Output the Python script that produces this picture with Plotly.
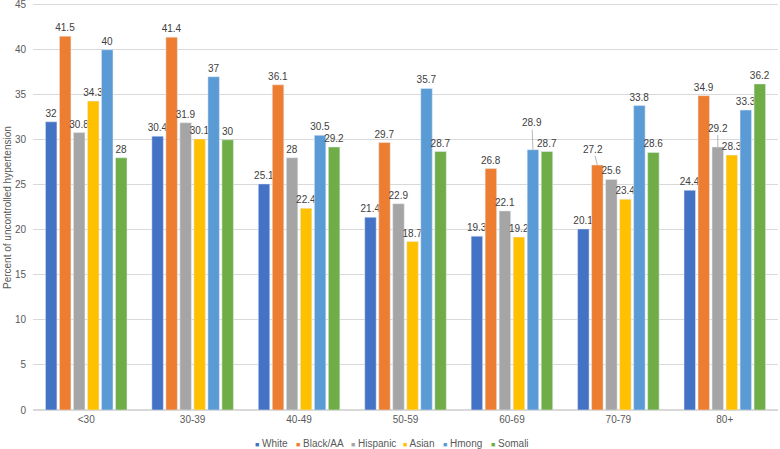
import plotly.graph_objects as go

categories = ["<30", "30-39", "40-49", "50-59", "60-69", "70-79", "80+"]
white = [32, 30.4, 25.1, 21.4, 19.3, 20.1, 24.4]
black = [41.5, 41.4, 36.1, 29.7, 26.8, 27.2, 34.9]
hispanic = [30.8, 31.9, 28, 22.9, 22.1, 25.6, 29.2]
asian = [34.3, 30.1, 22.4, 18.7, 19.2, 23.4, 28.3]
hmong = [40, 37, 30.5, 35.7, 28.9, 33.8, 33.3]
somali = [28, 30, 29.2, 28.7, 28.7, 28.6, 36.2]

series = [
    ("White", white, "#4472C4"),
    ("Black/AA", black, "#ED7D31"),
    ("Hispanic", hispanic, "#A5A5A5"),
    ("Asian", asian, "#FFC000"),
    ("Hmong", hmong, "#5B9BD5"),
    ("Somali", somali, "#70AD47"),
]

# labels moved off the bar with a leader line: (series index, category index, dx, dy)
leader_labels = [(4, 4, -1, -27), (1, 5, -4, -16), (2, 6, 0, -19)]

L, R, T, B = 33, 2, 2, 39
W, H = 780, 449
PW = W - L - R
PH = H - T - B
BARGAP, GROUPGAP = 0.21, 0.18
cat_w = PW / len(categories)
slot = cat_w * (1 - BARGAP) / len(series)

fig = go.Figure()
for si, (name, vals, color) in enumerate(series):
    texts = []
    for ci, v in enumerate(vals):
        moved = any(s == si and c == ci for s, c, _, _ in leader_labels)
        texts.append("" if moved else f"{v:g}")
    fig.add_trace(go.Bar(
        x=categories, y=vals, name=name, marker_color=color,
        text=texts, textposition="outside", constraintext="none",
        textfont=dict(size=10, color="#404040"), cliponaxis=False,
        showlegend=False,
    ))

for si, ci, dx, dy in leader_labels:
    v = series[si][1][ci]
    fig.add_annotation(
        x=categories[ci], y=v, xshift=(si - (len(series) - 1) / 2) * slot,
        text=f"{v:g}", showarrow=True, arrowhead=0, arrowwidth=0.8, arrowcolor="#A6A6A6",
        ax=dx, ay=dy, standoff=0, startstandoff=0,
        font=dict(size=10, color="#404040"),
    )

# custom compact legend
legend_x = [253, 294, 349, 401, 441, 489]
for (name, vals, color), px in zip(series, legend_x):
    fig.add_annotation(
        xref="paper", yref="paper", x=(px - L) / PW, y=-(443 - (H - B)) / PH,
        xanchor="left", yanchor="middle", showarrow=False,
        text=f'<span style="color:{color};font-size:7px">■</span> {name}',
        font=dict(size=10, color="#595959"),
    )

fig.add_annotation(
    xref="paper", yref="paper", x=-(L - 7) / PW, y=0.495, xanchor="center", yanchor="middle",
    textangle=-90, showarrow=False, text="Percent of uncontrolled hypertension",
    font=dict(size=10, color="#595959"),
)

fig.update_layout(
    width=W, height=H,
    margin=dict(l=L, r=R, t=T, b=B),
    plot_bgcolor="white", paper_bgcolor="white",
    font=dict(family="Liberation Sans, Arial, sans-serif", color="#595959", size=10),
    barmode="group", bargap=BARGAP, bargroupgap=GROUPGAP,
)
fig.update_yaxes(
    range=[0, 45.3], tickvals=list(range(0, 50, 5)), showgrid=True, gridcolor="#D9D9D9", gridwidth=1,
    zeroline=True, zerolinecolor="#D9D9D9", ticks="", tickfont=dict(size=10, color="#595959"),
    automargin=False, ticklabelstandoff=6, ticklabeloverflow="allow",
)
fig.update_xaxes(showline=True, linecolor="#D9D9D9", ticks="", tickfont=dict(size=10, color="#595959"),
                 automargin=False)

fig.write_html("out.html", config={"displayModeBar": False},
               post_script="document.body.style.margin='0';")
